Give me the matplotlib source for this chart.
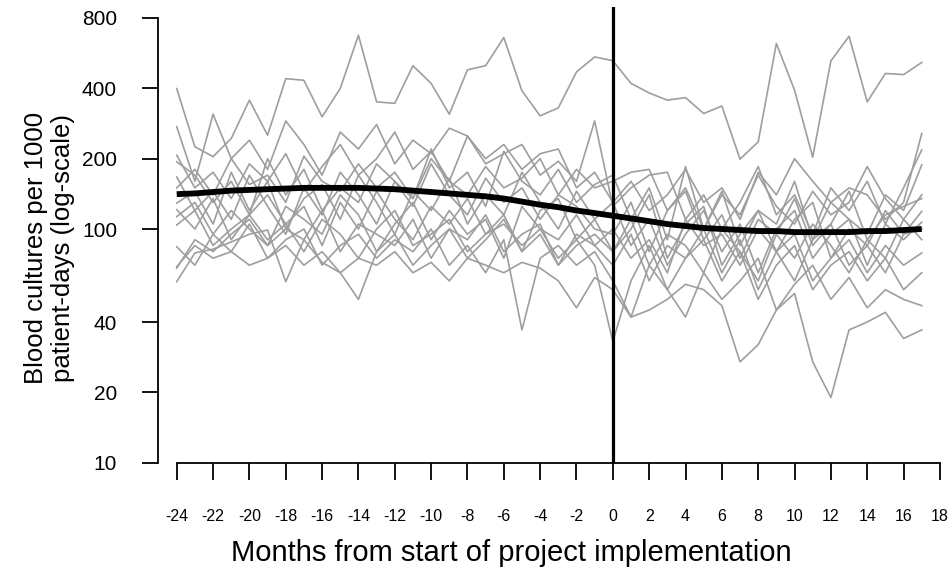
import matplotlib
matplotlib.use("Agg")
import matplotlib.pyplot as plt
import numpy as np
from matplotlib.ticker import FixedLocator, FixedFormatter, NullLocator

plt.rcParams['font.family'] = ['Liberation Sans', 'DejaVu Sans']

# months -24 .. 17
months = np.arange(-24, 18)

# blood cultures per 1000 patient-days, one list per unit (24 pre + 18 post values)
unit_01 = [399, 225, 204, 244, 356, 252, 440, 433, 302, 400, 675, 350, 345, 500, 420, 310, 480, 500, 660, 390, 305, 330, 470, 545,
           525, 420, 382, 356, 365, 312, 336, 199, 236, 622, 393, 203, 524, 668, 350, 463, 458, 516]
unit_02 = [274, 160, 310, 200, 240, 180, 290, 230, 170, 260, 220, 280, 190, 240, 210, 270, 250, 200, 230, 180, 210, 220, 150, 175,
           130, 160, 120, 140, 180, 130, 150, 110, 175, 140, 200, 160, 130, 150, 140, 110, 130, 256]
unit_03 = [207, 150, 175, 135, 190, 160, 210, 145, 185, 230, 170, 200, 260, 180, 215, 160, 250, 190, 210, 230, 170, 195, 160, 290,
           125, 150, 170, 175, 110, 140, 100, 130, 185, 115, 140, 95, 150, 120, 160, 105, 150, 218]
unit_04 = [194, 170, 130, 160, 115, 200, 140, 180, 120, 150, 130, 190, 160, 135, 220, 150, 175, 125, 215, 160, 140, 180, 130, 155,
           170, 110, 150, 90, 185, 100, 145, 85, 120, 105, 160, 90, 130, 110, 95, 140, 120, 188]
unit_05 = [167, 120, 145, 110, 170, 125, 95, 150, 115, 175, 140, 105, 160, 125, 190, 140, 115, 165, 130, 150, 110, 140, 125, 100,
           95, 130, 80, 120, 145, 90, 115, 75, 110, 95, 135, 85, 105, 145, 90, 115, 125, 135]
unit_06 = [129, 145, 105, 175, 120, 160, 100, 135, 155, 110, 170, 130, 95, 145, 120, 165, 105, 140, 115, 175, 130, 100, 145, 110,
           80, 100, 140, 75, 105, 125, 70, 95, 120, 80, 110, 130, 75, 100, 85, 120, 95, 119]
unit_07 = [121, 100, 135, 90, 115, 140, 105, 125, 85, 130, 100, 145, 110, 90, 125, 105, 135, 95, 115, 80, 120, 135, 90, 110,
           130, 85, 110, 70, 95, 120, 80, 105, 65, 100, 120, 75, 95, 110, 70, 105, 90, 107]
unit_08 = [113, 130, 95, 120, 100, 85, 125, 110, 95, 140, 115, 80, 105, 130, 90, 120, 95, 110, 75, 125, 100, 90, 115, 85,
           70, 95, 60, 85, 75, 100, 65, 90, 55, 80, 95, 60, 75, 90, 65, 85, 70, 79]
unit_09 = [104, 120, 85, 100, 115, 90, 105, 80, 110, 95, 75, 100, 120, 85, 95, 110, 80, 95, 105, 85, 100, 75, 90, 70,
           33, 60, 85, 55, 75, 90, 60, 80, 50, 70, 85, 55, 70, 80, 60, 75, 55, 65]
unit_10 = [84, 70, 95, 80, 105, 75, 90, 100, 70, 85, 95, 75, 90, 80, 100, 70, 85, 65, 90, 37, 75, 85, 70, 80,
           60, 42, 70, 55, 42, 65, 50, 60, 75, 45, 58, 70, 50, 62, 46, 55, 50, 47]
unit_11 = [69, 85, 75, 80, 70, 75, 85, 70, 80, 65, 75, 70, 80, 65, 72, 60, 75, 70, 65, 72, 68, 60, 46, 62,
           55, 42, 45, 50, 58, 55, 47, 27, 32, 45, 53, 27, 19, 37, 40, 44, 34, 37]
unit_12 = [68, 90, 80, 95, 110, 85, 100, 90, 120, 80, 105, 95, 85, 110, 75, 100, 90, 115, 80, 95, 105, 70, 95, 85,
           100, 75, 90, 65, 110, 85, 95, 70, 100, 80, 60, 90, 105, 70, 85, 65, 95, 100]
unit_13 = [59.5, 79, 82, 88, 95, 99, 59.5, 90, 72, 65, 50, 80, 95, 70, 85, 100, 75, 90, 110, 80, 95, 70, 85, 95,
           80, 110, 70, 95, 85, 65, 100, 80, 60, 95, 75, 105, 85, 65, 90, 75, 110, 140]
unit_14 = [150, 180, 140, 200, 155, 170, 130, 205, 160, 145, 190, 150, 175, 135, 200, 160, 140, 185, 150, 165, 200, 140, 180, 150,
           160, 175, 180, 120, 150, 100, 140, 115, 170, 125, 105, 145, 115, 130, 185, 135, 110, 90]

units = [unit_01, unit_02, unit_03, unit_04, unit_05, unit_06, unit_07,
         unit_08, unit_09, unit_10, unit_11, unit_12, unit_13, unit_14]

# fitted overall trend
trend = [141, 142, 144, 146, 147, 148, 149, 150, 150, 150, 150, 149, 148, 146, 144, 142, 140, 138, 135, 131, 127, 124, 120, 117,
         114, 111, 108, 105, 103, 101, 100, 99, 98, 98, 97, 97, 97, 97, 98, 98, 99, 100]

y_ticks = [10, 20, 40, 100, 200, 400, 800]
x_ticks = np.arange(-24, 19, 2)

W, H = 951, 577
fig = plt.figure(figsize=(W / 100, H / 100), dpi=100)
ax = fig.add_axes([158 / W, (H - 462.7) / H, (945 - 158) / W, 456 / H])

for u in units:
    ax.plot(months, u, color='#9e9e9e', lw=1.2, zorder=2)
ax.plot(months, trend, color='black', lw=4.2, solid_capstyle='butt', zorder=4)
ax.axvline(0, color='black', lw=2.3, zorder=5)

ax.set_yscale('log')
ax.set_xlim(-25.03, 18.28)
ax.set_ylim(10, 894)

ax.yaxis.set_major_locator(FixedLocator(y_ticks))
ax.yaxis.set_major_formatter(FixedFormatter([str(t) for t in y_ticks]))
ax.yaxis.set_minor_locator(NullLocator())
ax.set_xticks(x_ticks)
ax.set_xticklabels([str(t) for t in x_ticks])

for s in ['top', 'right']:
    ax.spines[s].set_visible(False)
ax.spines['left'].set_bounds(10, 800)
ax.spines['bottom'].set_bounds(-24, 18)
ax.spines['left'].set_linewidth(1.3)
ax.spines['bottom'].set_linewidth(1.3)

ax.tick_params(axis='y', length=11.5, width=1.3, pad=18, labelsize=15)
ax.tick_params(axis='x', length=12, width=1.3, pad=21, labelsize=11.5)

ax.set_ylabel("Blood cultures per 1000\npatient-days (log-scale)", fontsize=18.5, linespacing=1.2)
ax.yaxis.set_label_coords(-0.105, 0.47)
ax.set_xlabel("Months from start of project implementation", fontsize=21)
ax.xaxis.set_label_coords(0.449, -0.168)

fig.savefig("out.png", dpi=100)
